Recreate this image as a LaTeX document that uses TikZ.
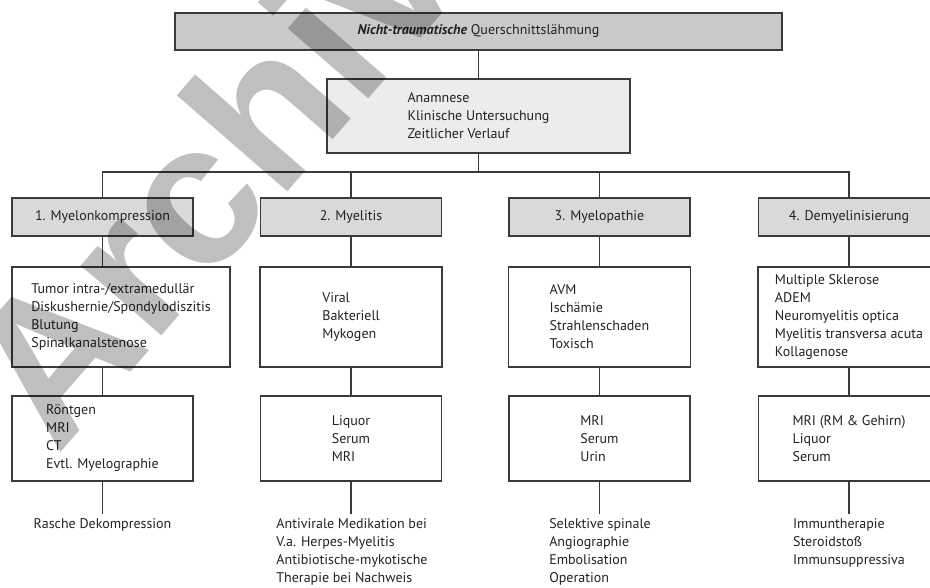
\documentclass[tikz,border=0pt]{standalone}
\usepackage{fontspec}
\setmainfont{PT Sans}
\newfontfamily\wmfont{Liberation Sans}
\usetikzlibrary{positioning, calc}
\definecolor{inkgray}{HTML}{222222}
\definecolor{framegray}{HTML}{3A3A3A}
\definecolor{headfill}{HTML}{C9CACC}
\definecolor{catfill}{HTML}{D9D9DA}
\definecolor{anamfill}{HTML}{ECECEC}
\begin{document}
\begin{tikzpicture}[
      x=1pt, y=-1pt,
      every node/.style={font=\fontsize{14}{18}\selectfont, text=inkgray},
      box/.style={draw=framegray, line width=1.3pt, align=left, inner sep=0pt},
      headbox/.style={box, fill=headfill, minimum width=607pt, minimum height=37pt},
      anambox/.style={box, fill=anamfill, minimum width=303pt, minimum height=74pt},
      catbox/.style={box, fill=catfill, minimum width=181pt, minimum height=38pt},
      causebox/.style={box, minimum width=182pt, minimum height=100pt},
      diagbox/.style={box, minimum width=181pt, minimum height=85pt},
      therapy/.style={align=left, anchor=north, inner sep=0pt},
      link/.style={draw=framegray, line width=1.3pt},
    ]
      \clip (0,0) rectangle (930,588);
      \useasboundingbox (0,0) rectangle (930,588);

      \node[headbox] (head) at (478.5,31.5) {\textbf{\textit{Nicht-traumatische}} Querschnittslähmung};
      \node[anambox] (anam) at (478.5,116) {Anamnese\\Klinische Untersuchung\\Zeitlicher Verlauf};

      \node[catbox] (cat1) at (102.5,217) {1. Myelonkompression};
      \node[catbox] (cat2) at (351,217)   {2. Myelitis};
      \node[catbox] (cat3) at (599.5,217) {3. Myelopathie};
      \node[catbox] (cat4) at (849,217)   {4. Demyelinisierung};

      \node[causebox, minimum width=218pt] (cause1) at (121,317) {Tumor intra-/extramedullär\\Diskushernie/Spondylodiszitis\\Blutung\\Spinalkanalstenose};
      \node[causebox] (cause2) at (351,317)   {Viral\\Bakteriell\\Mykogen};
      \node[causebox] (cause3) at (599.5,317) {AVM\\Ischämie\\Strahlenschaden\\Toxisch};
      \node[causebox] (cause4) at (849,317)   {Multiple Sklerose\\ADEM\\Neuromyelitis optica\\Myelitis transversa acuta\\Kollagenose};

      \node[diagbox] (diag1) at (102.5,438.5) {Röntgen\\MRI\\CT\\Evtl. Myelographie};
      \node[diagbox] (diag2) at (351,438.5)   {Liquor\\Serum\\MRI};
      \node[diagbox] (diag3) at (599.5,438.5) {MRI\\Serum\\Urin};
      \node[diagbox] (diag4) at (849,438.5)   {MRI (RM \& Gehirn)\\Liquor\\Serum};

      \node[therapy] (ther1) at (102.5,518) {Rasche Dekompression};
      \node[therapy] (ther2) at (352,518)   {Antivirale Medikation bei\\V.a. Herpes-Myelitis\\Antibiotische-mykotische\\Therapie bei Nachweis};
      \node[therapy] (ther3) at (600,518)   {Selektive spinale\\Angiographie\\Embolisation\\Operation};
      \node[therapy] (ther4) at (849,518)   {Immuntherapie\\Steroidstoß\\Immunsuppressiva};

      \coordinate (bus) at (0,172);
      \draw[link] (head.south) -- (anam.north);
      \draw[link] (anam.south) -- (anam.south |- bus);
      \draw[link] (cat1.north) |- (bus -| cat4.north) -- (cat4.north);
      \draw[link] (cat2.north) -- (cat2.north |- bus);
      \draw[link] (cat3.north) -- (cat3.north |- bus);

      \draw[link] (cat1.south) -- (cat1.south |- cause1.north);
      \draw[link] (cat2.south) -- (cause2.north);
      \draw[link] (cat3.south) -- (cause3.north);
      \draw[link] (cat4.south) -- (cause4.north);

      \draw[link] (diag1.north |- cause1.south) -- (diag1.north);
      \draw[link] (cause2.south) -- (diag2.north);
      \draw[link] (cause3.south) -- (diag3.north);
      \draw[link] (cause4.south) -- (diag4.north);

      \draw[link] (diag1.south) -- ++(0,32) coordinate (end1);
      \draw[link] (diag2.south) -- ++(0,32) coordinate (end2);
      \draw[link] (diag3.south) -- ++(0,32) coordinate (end3);
      \draw[link] (diag4.south) -- ++(0,32) coordinate (end4);

      \node[font=\wmfont\bfseries\fontsize{202}{202}\selectfont, text=black, text opacity=0.25,
            rotate=49, anchor=base west, inner sep=0pt] (stamp) at (57,457) {Archiv};
    \end{tikzpicture}
\end{document}
